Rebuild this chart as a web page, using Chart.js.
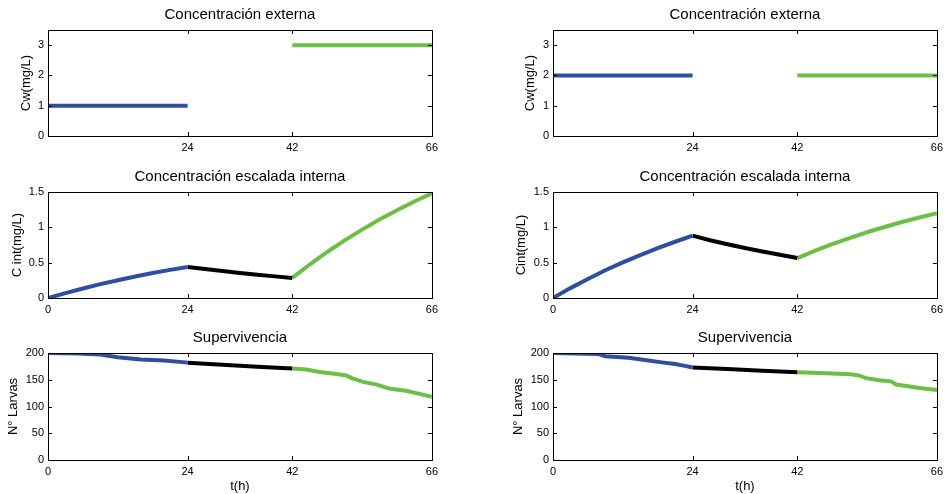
<!DOCTYPE html>
<html>
<head>
<meta charset="utf-8">
<script src="https://cdn.jsdelivr.net/npm/chart.js@4"></script>
<style>
  body { margin: 0; background: #fff; }
  #wrap { position: relative; width: 945px; height: 494px; overflow: hidden; }
  canvas { position: absolute; }
</style>
</head>
<body>
<div id="wrap">
  <canvas id="extLeft" width="443" height="156" style="left:0;top:0"></canvas>
  <canvas id="extRight" width="443" height="156" style="left:505px;top:0"></canvas>
  <canvas id="cintLeft" width="443" height="156" style="left:0;top:162px"></canvas>
  <canvas id="cintRight" width="443" height="156" style="left:505px;top:162px"></canvas>
  <canvas id="survLeft" width="443" height="171" style="left:0;top:323px"></canvas>
  <canvas id="survRight" width="443" height="171" style="left:505px;top:323px"></canvas>
</div>
<script>
// tick labels
const xTicksTop = [24, 42, 66];
const xTicks = [0, 24, 42, 66];
const cwTicks = [0, 1, 2, 3];
const cintTicks = [0, 0.5, 1, 1.5];
const larvaeTicks = [0, 50, 100, 150, 200];

// external concentration
const extTimeBlue = [0, 24];
const extTimeGreen = [42, 66];
const extLeftBlue = [1, 1];
const extLeftGreen = [3, 3];
const extRightBlue = [2, 2];
const extRightGreen = [2, 2];

// internal scaled concentration
const cintTimeBlue = [0, 3, 6, 9, 12, 15, 18, 21, 24];
const cintTimeBlack = [24, 27, 30, 33, 36, 39, 42];
const cintTimeGreen = [42, 45, 48, 51, 54, 57, 60, 63, 66];
const cintLeftBlue = [0, 0.07, 0.135, 0.196, 0.252, 0.304, 0.353, 0.398, 0.44];
const cintLeftBlack = [0.44, 0.409, 0.381, 0.354, 0.329, 0.306, 0.284];
const cintLeftGreen = [0.284, 0.474, 0.651, 0.816, 0.968, 1.11, 1.243, 1.365, 1.482];
const cintRightBlue = [0, 0.14, 0.27, 0.392, 0.504, 0.608, 0.706, 0.796, 0.882];
const cintRightBlack = [0.882, 0.818, 0.761, 0.708, 0.658, 0.612, 0.565];
const cintRightGreen = [0.565, 0.668, 0.761, 0.848, 0.93, 1.005, 1.075, 1.139, 1.2];

// survival
const survLeftTimeBlue = [0, 5, 9, 12, 16, 20, 24];
const survLeftBlue = [200, 199, 197, 192, 188, 186, 182];
const survLeftTimeBlack = [24, 30, 36, 42];
const survLeftBlack = [182, 178, 174.5, 171];
const survLeftTimeGreen = [42, 44.4, 46.7, 49.6, 51.3, 52.2, 54.2, 56.5, 58.8, 61.6, 63.3, 66];
const survLeftGreen = [171, 169, 164.5, 160.6, 158, 153, 146, 141, 133, 129.5, 125, 118];
const survRightTimeBlue = [0, 7.8, 9, 13, 16.4, 18.7, 21, 22.7, 24];
const survRightBlue = [200, 198, 194, 191, 186, 182.5, 179.4, 176, 173];
const survRightTimeBlack = [24, 30, 36, 42];
const survRightBlack = [173, 170, 167, 164];
const survRightTimeGreen = [42, 47, 51, 52.6, 53.8, 56.1, 58.1, 59, 61.3, 63, 66];
const survRightGreen = [164, 162, 160.5, 158, 153, 149, 147, 141, 137.5, 134.5, 131];

const BLUE = '#2f4ea1';
const GREEN = '#6cbf45';
const BLACK = '#000000';

Chart.defaults.font.family = "'Liberation Sans', Arial, Helvetica, sans-serif";
Chart.defaults.color = '#000';

const pts = (xs, ys) => xs.map((x, i) => ({ x: x, y: ys[i] }));

// MATLAB style box with inward ticks
const boxPlugin = {
  id: 'box',
  afterDatasetsDraw(chart) {
    const { ctx, chartArea: a, scales } = chart;
    ctx.save();
    ctx.strokeStyle = '#000';
    ctx.lineWidth = 1;
    ctx.beginPath();
    scales.x.ticks.forEach(t => {
      const px = Math.round(scales.x.getPixelForValue(t.value)) + 0.5;
      ctx.moveTo(px, a.bottom); ctx.lineTo(px, a.bottom - 4);
      ctx.moveTo(px, a.top); ctx.lineTo(px, a.top + 4);
    });
    scales.y.ticks.forEach(t => {
      const py = Math.round(scales.y.getPixelForValue(t.value)) + 0.5;
      ctx.moveTo(a.left, py); ctx.lineTo(a.left + 4, py);
      ctx.moveTo(a.right, py); ctx.lineTo(a.right - 4, py);
    });
    ctx.stroke();
    ctx.strokeRect(Math.round(a.left) + 0.5, Math.round(a.top) + 0.5,
      Math.round(a.right - a.left), Math.round(a.bottom - a.top));
    ctx.restore();
  }
};

function makePanel(id, opt) {
  const datasets = opt.series.map(s => ({
    data: pts(s.t, s.v),
    borderColor: s.color,
    backgroundColor: s.color,
    borderWidth: 4,
    pointRadius: 0,
    tension: 0,
    fill: false
  }));
  new Chart(document.getElementById(id), {
    type: 'line',
    data: { datasets: datasets },
    plugins: [boxPlugin],
    options: {
      responsive: false,
      animation: false,
      layout: { padding: { left: 0, right: 8, top: 0, bottom: 0 } },
      plugins: {
        legend: { display: false },
        tooltip: { enabled: false },
        title: {
          display: true,
          text: opt.title,
          fullSize: false,
          color: '#000',
          font: { size: 15, weight: 'normal' },
          padding: { top: 6, bottom: 6 }
        }
      },
      scales: {
        x: {
          type: 'linear',
          min: 0,
          max: 66,
          afterBuildTicks: s => { s.ticks = opt.xTicks.map(v => ({ value: v })); },
          afterFit: s => { s.height = opt.xTitle ? 34 : 20; },
          grid: { display: false, drawTicks: false },
          border: { display: false },
          ticks: { font: { size: 11 }, padding: 5, maxRotation: 0, autoSkip: false,
                   callback: v => String(v) },
          title: {
            display: !!opt.xTitle,
            text: opt.xTitle || '',
            font: { size: 13 },
            padding: { top: 0, bottom: 0 }
          }
        },
        y: {
          min: 0,
          max: opt.yMax,
          afterBuildTicks: s => { s.ticks = opt.yTicks.map(v => ({ value: v })); },
          afterFit: s => { s.width = 48; },
          grid: { display: false, drawTicks: false },
          border: { display: false },
          ticks: { font: { size: 11 }, padding: 4, autoSkip: false,
                   callback: v => String(v) },
          title: {
            display: true,
            text: opt.yTitle,
            font: { size: 13 },
            padding: { top: opt.yTitlePad, bottom: 0 }
          }
        }
      }
    }
  });
}

makePanel('extLeft', {
  title: 'Concentración externa', yTitle: 'Cw(mg/L)', yTitlePad: 19,
  yMax: 3.5, yTicks: cwTicks, xTicks: xTicksTop,
  series: [
    { t: extTimeBlue, v: extLeftBlue, color: BLUE },
    { t: extTimeGreen, v: extLeftGreen, color: GREEN }
  ]
});
makePanel('extRight', {
  title: 'Concentración externa', yTitle: 'Cw(mg/L)', yTitlePad: 18,
  yMax: 3.5, yTicks: cwTicks, xTicks: xTicksTop,
  series: [
    { t: extTimeBlue, v: extRightBlue, color: BLUE },
    { t: extTimeGreen, v: extRightGreen, color: GREEN }
  ]
});
makePanel('cintLeft', {
  title: 'Concentración escalada interna', yTitle: 'C int(mg/L)', yTitlePad: 10,
  yMax: 1.5, yTicks: cintTicks, xTicks: xTicks,
  series: [
    { t: cintTimeBlue, v: cintLeftBlue, color: BLUE },
    { t: cintTimeBlack, v: cintLeftBlack, color: BLACK },
    { t: cintTimeGreen, v: cintLeftGreen, color: GREEN }
  ]
});
makePanel('cintRight', {
  title: 'Concentración escalada interna', yTitle: 'Cint(mg/L)', yTitlePad: 9,
  yMax: 1.5, yTicks: cintTicks, xTicks: xTicks,
  series: [
    { t: cintTimeBlue, v: cintRightBlue, color: BLUE },
    { t: cintTimeBlack, v: cintRightBlack, color: BLACK },
    { t: cintTimeGreen, v: cintRightGreen, color: GREEN }
  ]
});
makePanel('survLeft', {
  title: 'Supervivencia', yTitle: 'N° Larvas', yTitlePad: 6, xTitle: 't(h)',
  yMax: 200, yTicks: larvaeTicks, xTicks: xTicks,
  series: [
    { t: survLeftTimeBlue, v: survLeftBlue, color: BLUE },
    { t: survLeftTimeBlack, v: survLeftBlack, color: BLACK },
    { t: survLeftTimeGreen, v: survLeftGreen, color: GREEN }
  ]
});
makePanel('survRight', {
  title: 'Supervivencia', yTitle: 'N° Larvas', yTitlePad: 6, xTitle: 't(h)',
  yMax: 200, yTicks: larvaeTicks, xTicks: xTicks,
  series: [
    { t: survRightTimeBlue, v: survRightBlue, color: BLUE },
    { t: survRightTimeBlack, v: survRightBlack, color: BLACK },
    { t: survRightTimeGreen, v: survRightGreen, color: GREEN }
  ]
});
</script>
</body>
</html>
